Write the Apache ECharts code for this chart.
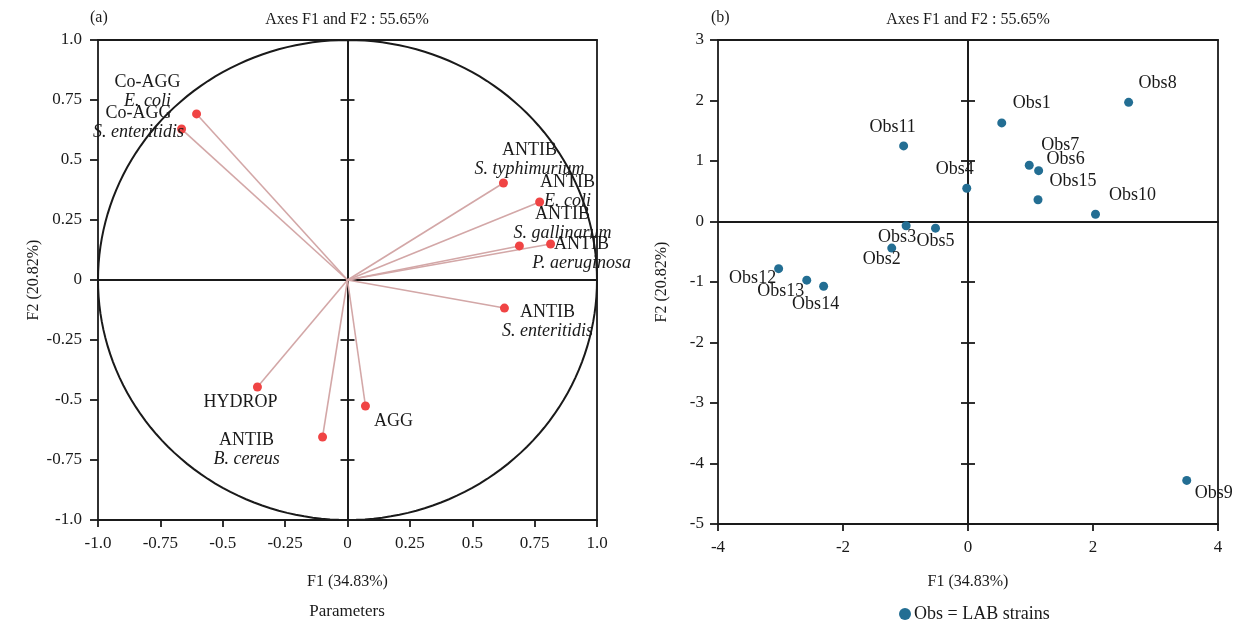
<!DOCTYPE html>
<html>
<head>
<meta charset="utf-8">
<title>PCA biplot – F1 and F2</title>
<script src="https://cdn.jsdelivr.net/npm/echarts@6/dist/echarts.min.js"></script>
<style>
  html, body { margin: 0; padding: 0; background: #ffffff; }
  #chart { width: 1233px; height: 621px; }
</style>
</head>
<body>
<div id="chart"></div>
<script>
// ---- (a) correlation circle: variables (loadings on F1 / F2) ----
const variableNames = ['Co-AGG', 'Co-AGG', 'ANTIB', 'ANTIB', 'ANTIB', 'ANTIB', 'ANTIB', 'HYDROP', 'AGG', 'ANTIB'];
const variableTargets = ['E. coli', 'S. enteritidis', 'S. typhimurium', 'E. coli', 'S. gallinarum',
                         'P. aeruginosa', 'S. enteritidis', '', '', 'B. cereus'];
const variableF1 = [-0.605, -0.665, 0.625, 0.770, 0.689, 0.814, 0.629, -0.361, 0.072, -0.100];
const variableF2 = [0.692, 0.629, 0.404, 0.325, 0.142, 0.150, -0.117, -0.446, -0.525, -0.654];

// ---- (b) observations (scores on F1 / F2) ----
const obsNames = ['Obs1', 'Obs2', 'Obs3', 'Obs4', 'Obs5', 'Obs6', 'Obs7', 'Obs8',
                  'Obs9', 'Obs10', 'Obs11', 'Obs12', 'Obs13', 'Obs14', 'Obs15'];
const obsF1 = [0.54, -1.22, -0.99, -0.02, -0.52, 1.13, 0.98, 2.57, 3.50, 2.04, -1.03, -3.03, -2.58, -2.31, 1.12];
const obsF2 = [1.63, -0.44, -0.07, 0.55, -0.11, 0.84, 0.93, 1.97, -4.28, 0.12, 1.25, -0.78, -0.97, -1.07, 0.36];

// ---- tick labels of the correlation circle ----
const corrTickLabels = ['-1.0', '-0.75', '-0.5', '-0.25', '0', '0.25', '0.5', '0.75', '1.0'];

// ---- label placement (pixel offsets from each mark) ----
const variableLabelOffsets = [[-49, -22], [-43, -6], [26, -23], [28, -10], [43, -22],
                              [31, 10], [43, 14], [-17, 15], [28, 15], [-76, 13]];
const obsLabelOffsets = [[30, -20], [-10, 11], [-9, 12], [-12, -19], [0, 13], [27, -11], [31, -20], [29, -19],
                         [27, 13], [37, -19], [-11, -19], [-26, 10], [-26, 11], [-8, 18], [35, -18]];

const FONT = '"Liberation Serif", "Times New Roman", serif';
const INK = '#1a1a1a';
const AXIS_W = 1.8;

const chart = echarts.init(document.getElementById('chart'), null, { renderer: 'canvas' });

function corrLabel(v) {
  return corrTickLabels[Math.round((v + 1) / 0.25)];
}

// frame axis (box side) helper
function frameAxis(dim, grid, pos, extra) {
  return Object.assign({
    type: 'value', gridIndex: grid, position: pos,
    axisLine: { show: true, onZero: false, lineStyle: { color: INK, width: AXIS_W } },
    axisTick: { show: false }, axisLabel: { show: false }, splitLine: { show: false }
  }, extra || {});
}
// centre line through zero, optionally with ticks on one side
function zeroAxis(grid, pos, onZeroIdx, tick, inside, extra) {
  return Object.assign({
    type: 'value', gridIndex: grid, position: pos,
    axisLine: { show: true, onZero: true, onZeroAxisIndex: onZeroIdx, lineStyle: { color: INK, width: AXIS_W } },
    axisTick: { show: tick, inside: inside, length: 7, lineStyle: { color: INK, width: AXIS_W } },
    axisLabel: { show: false }, splitLine: { show: false }
  }, extra || {});
}

const tickLabelStyle = { color: INK, fontFamily: FONT, fontSize: 17 };
const nameStyle = { color: INK, fontFamily: FONT, fontSize: 16 };

const corrRange = { min: -1, max: 1, interval: 0.25 };
const obsX = { min: -4, max: 4, interval: 2 };
const obsY = { min: -5, max: 3, interval: 1 };

const variableData = variableNames.map((n, i) => ({
  name: n,
  value: [variableF1[i], variableF2[i]],
  target: variableTargets[i],
  label: { offset: variableLabelOffsets[i] }
}));
const obsData = obsNames.map((n, i) => ({
  name: n,
  value: [obsF1[i], obsF2[i]],
  label: { offset: obsLabelOffsets[i] }
}));

const option = {
  backgroundColor: '#ffffff',
  animation: false,
  textStyle: { fontFamily: FONT },
  grid: [
    { left: 98, top: 40, width: 499, height: 480 },
    { left: 718, top: 40, width: 500, height: 484 }
  ],
  xAxis: [
    // grid 0 : indices 0..2
    frameAxis('x', 0, 'bottom', Object.assign({}, corrRange, {
      axisTick: { show: true, length: 7, lineStyle: { color: INK, width: AXIS_W } },
      axisLabel: Object.assign({ margin: 15, formatter: corrLabel }, tickLabelStyle),
      name: 'F1 (34.83%)', nameLocation: 'middle', nameGap: 54, nameTextStyle: nameStyle
    })),
    frameAxis('x', 0, 'top', corrRange),
    zeroAxis(0, 'bottom', 0, false, false, corrRange),
    // grid 1 : indices 3..5
    frameAxis('x', 1, 'bottom', Object.assign({}, obsX, {
      axisTick: { show: true, length: 7, lineStyle: { color: INK, width: AXIS_W } },
      axisLabel: Object.assign({ margin: 15 }, tickLabelStyle),
      name: 'F1 (34.83%)', nameLocation: 'middle', nameGap: 50, nameTextStyle: nameStyle
    })),
    frameAxis('x', 1, 'top', obsX),
    zeroAxis(1, 'bottom', 4, false, false, obsX)
  ],
  yAxis: [
    // grid 0 : indices 0..3
    frameAxis('y', 0, 'left', Object.assign({}, corrRange, {
      axisTick: { show: true, length: 8, lineStyle: { color: INK, width: AXIS_W } },
      axisLabel: Object.assign({ margin: 16, formatter: corrLabel }, tickLabelStyle),
      name: 'F2 (20.82%)', nameLocation: 'middle', nameGap: 56, nameTextStyle: nameStyle
    })),
    frameAxis('y', 0, 'right', corrRange),
    zeroAxis(0, 'left', 0, true, false, corrRange),
    zeroAxis(0, 'left', 0, true, true, corrRange),
    // grid 1 : indices 4..7
    frameAxis('y', 1, 'left', Object.assign({}, obsY, {
      axisTick: { show: true, length: 8, lineStyle: { color: INK, width: AXIS_W } },
      axisLabel: Object.assign({ margin: 14 }, tickLabelStyle),
      name: 'F2 (20.82%)', nameLocation: 'middle', nameGap: 48, nameTextStyle: nameStyle
    })),
    frameAxis('y', 1, 'right', obsY),
    zeroAxis(1, 'left', 3, true, false, obsY),
    zeroAxis(1, 'left', 3, true, true, obsY)
  ],
  legend: {
    data: ['Obs = LAB strains'],
    left: 894, top: 600,
    icon: 'circle', itemWidth: 12, itemHeight: 12, itemGap: 4,
    textStyle: { color: INK, fontFamily: FONT, fontSize: 18, padding: [0, 0, 0, -2] }
  },
  graphic: [
    { type: 'text', left: 90, top: 10, style: { text: '(a)', font: '16px ' + FONT, fill: INK } },
    { type: 'text', x: 347, y: 20, style: { text: 'Axes F1 and F2 : 55.65%', font: '16px ' + FONT, fill: INK, textAlign: 'center', textVerticalAlign: 'middle' } },
    { type: 'text', left: 711, top: 10, style: { text: '(b)', font: '16px ' + FONT, fill: INK } },
    { type: 'text', x: 968, y: 20, style: { text: 'Axes F1 and F2 : 55.65%', font: '16px ' + FONT, fill: INK, textAlign: 'center', textVerticalAlign: 'middle' } },
    { type: 'text', x: 347, y: 612, style: { text: 'Parameters', font: '17px ' + FONT, fill: INK, textAlign: 'center', textVerticalAlign: 'middle' } }
  ],
  series: [
    {
      // unit correlation circle
      type: 'custom', xAxisIndex: 0, yAxisIndex: 0, silent: true, z: 1,
      data: [[0, 0]],
      renderItem: function (params, api) {
        const pts = [];
        for (let k = 0; k <= 360; k += 2) {
          const t = k * Math.PI / 180;
          pts.push(api.coord([Math.cos(t), Math.sin(t)]));
        }
        return { type: 'polyline', shape: { points: pts }, style: { stroke: INK, lineWidth: 2, fill: null } };
      }
    },
    {
      // loading vectors from the origin
      type: 'custom', xAxisIndex: 0, yAxisIndex: 0, silent: true, z: 2,
      data: variableF1.map((x, i) => [x, variableF2[i]]),
      renderItem: function (params, api) {
        const o = api.coord([0, 0]);
        const p = api.coord([api.value(0), api.value(1)]);
        return { type: 'line', shape: { x1: o[0], y1: o[1], x2: p[0], y2: p[1] },
                 style: { stroke: '#d3a7a7', lineWidth: 1.6 } };
      }
    },
    {
      name: 'Parameters', type: 'scatter', xAxisIndex: 0, yAxisIndex: 0, z: 3,
      symbolSize: 9, itemStyle: { color: '#f04444', opacity: 1 },
      data: variableData,
      label: {
        show: true, position: 'inside', align: 'center', verticalAlign: 'middle',
        color: INK, fontFamily: FONT,
        formatter: function (p) {
          return p.data.target ? '{n|' + p.name + '}\n{i|' + p.data.target + '}' : '{n|' + p.name + '}';
        },
        rich: {
          n: { fontFamily: FONT, fontSize: 18, color: INK, lineHeight: 19 },
          i: { fontFamily: FONT, fontSize: 18, fontStyle: 'italic', color: INK, lineHeight: 19 }
        }
      }
    },
    {
      name: 'Obs = LAB strains', type: 'scatter', xAxisIndex: 3, yAxisIndex: 4, z: 3,
      symbolSize: 9, itemStyle: { color: '#236e93', opacity: 1 },
      data: obsData,
      label: {
        show: true, position: 'inside', align: 'center', verticalAlign: 'middle',
        color: INK, fontFamily: FONT, fontSize: 18,
        formatter: '{b}'
      }
    }
  ]
};

chart.setOption(option);
</script>
</body>
</html>
